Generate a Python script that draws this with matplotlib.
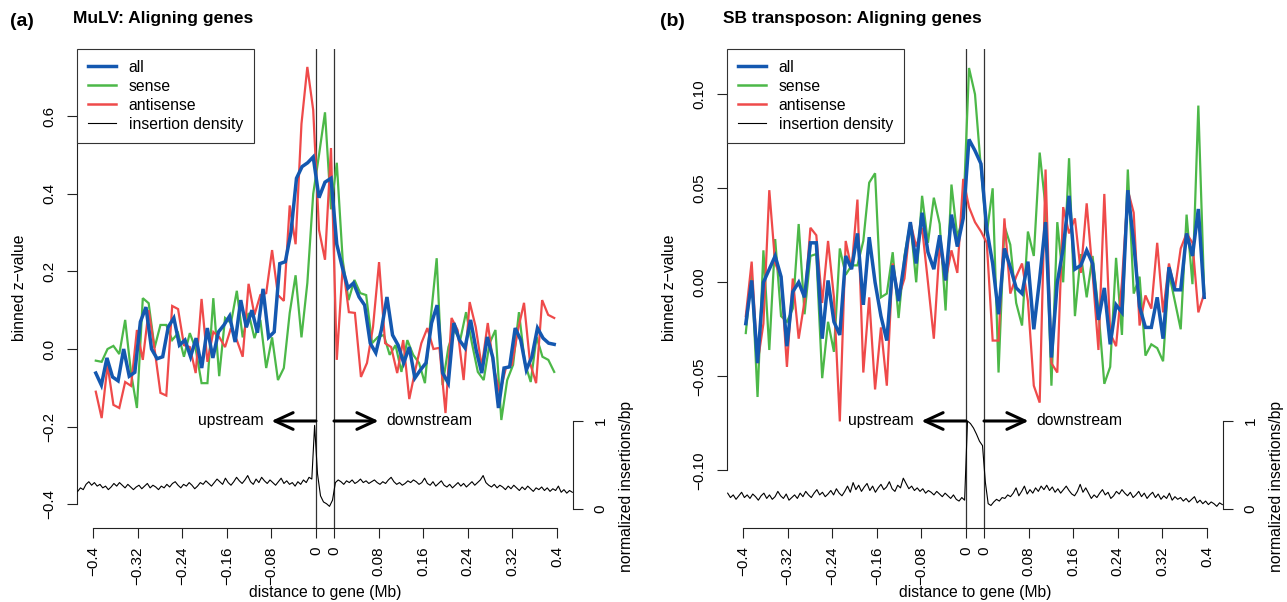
import numpy as np
import matplotlib.pyplot as plt
from matplotlib.lines import Line2D

plt.rcParams['font.family'] = ['Liberation Sans', 'DejaVu Sans']

# ---------------- data: panel (a) MuLV ----------------
a_all_up = [-0.062, -0.093, -0.023, -0.072, -0.082, 0.000, -0.070, -0.060, 0.070, 0.108,
            0.000, -0.025, -0.020, 0.057, 0.080, 0.010, 0.023, -0.020, 0.028, -0.049,
            0.054, -0.023, 0.044, 0.062, 0.085, 0.018, 0.126, 0.056, 0.100, 0.042,
            0.155, 0.030, 0.044, 0.220, 0.225, 0.300, 0.440, 0.470, 0.480, 0.495]
a_all_gene = [0.39, 0.43, 0.44]
a_all_down = [0.27, 0.21, 0.157, 0.17, 0.134, 0.113, 0.015, -0.01, 0.05, 0.134,
              0.036, 0.01, -0.036, 0.005, -0.075, -0.054, -0.036, 0.067, 0.113, -0.062,
              -0.088, 0.067, 0.023, 0.003, 0.075, -0.003, -0.062, 0.031, -0.023, -0.152,
              -0.049, -0.046, 0.054, 0.023, -0.054, -0.02, 0.054, 0.028, 0.015, 0.012]

a_sense_up = [-0.03, -0.033, 0.0, 0.008, -0.013, 0.075, -0.062, -0.152, 0.131, 0.118,
              0.003, 0.062, 0.062, 0.023, 0.041, -0.02, 0.041, 0.0, -0.088, -0.088,
              0.131, -0.07, 0.08, 0.067, 0.15, 0.03, 0.093, 0.028, 0.075, -0.049,
              0.03, -0.08, -0.049, 0.093, 0.19, 0.03, 0.17, 0.40]
a_sense_gene = [0.50, 0.61, 0.36]
a_sense_down = [0.48, 0.23, 0.126, 0.178, 0.144, 0.139, 0.015, 0.031, 0.036, -0.015,
                0.01, -0.059, 0.023, -0.015, -0.036, -0.088, 0.082, 0.234, -0.093, 0.005,
                0.049, 0.023, 0.095, 0.015, -0.059, -0.08, 0.015, 0.049, -0.183, -0.08,
                -0.041, 0.095, -0.036, -0.085, 0.031, -0.02, -0.028, -0.059]

a_anti_up = [-0.11, -0.178, -0.041, -0.144, -0.152, -0.085, -0.095, 0.049, -0.028, 0.10,
             0.0, -0.113, -0.12, 0.111, 0.103, 0.01, 0.005, -0.062, 0.129, -0.033,
             0.044, 0.031, 0.005, 0.054, 0.023, -0.02, 0.168, 0.088, 0.139, 0.144,
             0.255, 0.139, 0.124, 0.37, 0.27, 0.58, 0.727, 0.616]
a_anti_gene = [0.307, 0.23, 0.518]
a_anti_down = [-0.028, 0.217, 0.095, 0.093, -0.072, -0.036, 0.057, 0.224, 0.015, 0.005,
               -0.062, 0.023, -0.129, -0.054, 0.015, 0.054, 0.0, 0.003, -0.165, 0.08,
               0.049, -0.08, 0.121, 0.057, -0.046, 0.067, -0.049, -0.113, -0.049, -0.041,
               0.049, 0.119, -0.036, -0.088, 0.126, 0.088, 0.08]

a_dens_up = [0.20, 0.24, 0.22, 0.28, 0.31, 0.27, 0.30, 0.26, 0.28, 0.24,
             0.26, 0.22, 0.25, 0.29, 0.26, 0.30, 0.27, 0.24, 0.28, 0.25,
             0.22, 0.25, 0.27, 0.23, 0.26, 0.29, 0.24, 0.27, 0.25, 0.22,
             0.26, 0.24, 0.28, 0.25, 0.29, 0.31, 0.27, 0.24, 0.28, 0.26,
             0.30, 0.27, 0.23, 0.26, 0.30, 0.28, 0.32, 0.29, 0.26, 0.30,
             0.34, 0.31, 0.28, 0.35, 0.30, 0.27, 0.31, 0.36, 0.32, 0.29,
             0.33, 0.38, 0.31, 0.28, 0.34, 0.30, 0.36, 0.32, 0.29, 0.33,
             0.30, 0.27, 0.31, 0.35, 0.29, 0.32, 0.28, 0.30, 0.26, 0.31,
             0.28, 0.33, 0.30, 0.36, 0.34, 0.95]
a_dens_gene = [0.40, 0.15, 0.08, 0.06, 0.03, 0.10]
a_dens_down = [0.30, 0.33, 0.31, 0.28, 0.32, 0.30, 0.33, 0.29, 0.31, 0.34,
               0.30, 0.32, 0.29, 0.31, 0.33, 0.30, 0.28, 0.31, 0.29, 0.33,
               0.36, 0.31, 0.28, 0.30, 0.27, 0.29, 0.32, 0.30, 0.33, 0.31,
               0.28, 0.30, 0.35, 0.29, 0.27, 0.31, 0.26, 0.29, 0.32, 0.27,
               0.25, 0.28, 0.24, 0.27, 0.30, 0.26, 0.29, 0.25, 0.28, 0.31,
               0.27, 0.30, 0.33, 0.38, 0.30, 0.27, 0.25, 0.28, 0.24, 0.27,
               0.25, 0.22, 0.26, 0.23, 0.27, 0.24, 0.21, 0.25, 0.22, 0.26,
               0.23, 0.20, 0.24, 0.22, 0.25, 0.21, 0.24, 0.20, 0.23, 0.21,
               0.26, 0.19, 0.22, 0.18, 0.21, 0.19]

# ---------------- data: panel (b) SB transposon ----------------
b_all_up = [-0.022, 0.001, -0.043, 0.0, 0.007, 0.014, 0.003, -0.034, -0.005, 0.0,
            -0.008, 0.021, 0.021, -0.03, 0.001, -0.021, -0.028, 0.014, 0.007, 0.026,
            -0.012, 0.024, 0.0, -0.018, -0.031, 0.009, -0.01, 0.011, 0.032, 0.01,
            0.037, 0.016, 0.007, 0.025, 0.001, 0.036, 0.019, 0.034]
b_all_gene = [0.076, 0.070, 0.063]
b_all_down = [0.028, 0.01, -0.017, 0.018, 0.008, -0.003, -0.006, 0.011, -0.025, 0.002,
              0.032, -0.04, 0.0, 0.018, 0.046, 0.007, 0.009, 0.017, 0.01, -0.02,
              -0.003, -0.033, -0.012, -0.016, 0.049, 0.021, -0.013, -0.024, -0.024, -0.008,
              -0.03, 0.008, -0.004, -0.004, 0.026, 0.014, 0.039, -0.008]

b_sense_up = [-0.027, 0.005, -0.061, 0.017, -0.036, 0.023, -0.018, -0.021, -0.014, 0.031,
              -0.017, 0.014, 0.015, -0.051, -0.021, -0.037, 0.018, 0.004, 0.009, 0.009,
              0.022, 0.053, 0.058, -0.008, -0.006, 0.016, -0.019, 0.014, 0.032, 0.0,
              0.046, 0.021, 0.045, 0.031, -0.015, 0.052, 0.024, 0.035]
b_sense_gene = [0.114, 0.100, 0.060]
b_sense_down = [0.026, 0.05, -0.048, 0.03, 0.02, -0.011, -0.023, 0.027, 0.014, 0.069,
                0.04, -0.055, 0.032, 0.0, 0.066, -0.018, 0.015, -0.008, 0.014, -0.015,
                -0.054, -0.045, 0.013, -0.028, 0.06, -0.006, 0.003, -0.039, -0.033, -0.035,
                -0.042, 0.005, -0.01, -0.025, 0.036, -0.001, 0.094, -0.006]

b_anti_up = [-0.018, 0.011, -0.043, -0.022, 0.049, 0.01, 0.003, -0.045, 0.002, -0.03,
             -0.01, 0.029, 0.025, -0.011, 0.022, -0.008, -0.074, 0.022, 0.007, 0.044,
             -0.048, -0.008, -0.057, -0.024, -0.055, 0.01, -0.008, 0.002, 0.032, 0.019,
             0.029, 0.0, -0.03, 0.02, 0.001, 0.017, 0.005, 0.055]
b_anti_gene = [0.040, 0.032, 0.027]
b_anti_down = [0.021, -0.031, -0.031, 0.034, -0.006, 0.003, 0.01, -0.01, -0.055, -0.064,
               0.06, -0.043, -0.048, 0.04, 0.026, 0.034, 0.005, 0.042, 0.005, -0.036,
               0.047, -0.027, -0.034, 0.0, 0.049, 0.037, -0.023, -0.007, -0.014, 0.021,
               -0.016, 0.01, -0.004, 0.018, 0.026, 0.021, -0.016, -0.006]

b_dens_up = [0.18, 0.13, 0.16, 0.11, 0.15, 0.19, 0.13, 0.16, 0.12, 0.17,
             0.14, 0.10, 0.15, 0.18, 0.12, 0.16, 0.11, 0.14, 0.20, 0.15,
             0.12, 0.17, 0.10, 0.13, 0.16, 0.12, 0.18, 0.14, 0.20, 0.16,
             0.13, 0.18, 0.22, 0.16, 0.19, 0.14, 0.17, 0.21, 0.16, 0.23,
             0.18, 0.15, 0.20, 0.26, 0.19, 0.30, 0.22, 0.27, 0.20, 0.25,
             0.29, 0.21, 0.26, 0.19, 0.24, 0.28, 0.22, 0.25, 0.31, 0.23,
             0.20, 0.27, 0.24, 0.35, 0.29, 0.23, 0.26, 0.21, 0.24, 0.20,
             0.23, 0.18, 0.21, 0.19, 0.16, 0.20, 0.17, 0.14, 0.18, 0.15,
             0.12, 0.16, 0.11, 0.09, 0.13, 0.10]
b_dens_gene = [1.0, 0.97, 0.92, 0.85, 0.77, 0.72]
b_dens_down = [0.30, 0.06, 0.04, 0.08, 0.11, 0.09, 0.13, 0.12, 0.16, 0.14,
               0.18, 0.24, 0.15, 0.20, 0.26, 0.17, 0.22, 0.18, 0.24, 0.20,
               0.26, 0.22, 0.27, 0.21, 0.25, 0.19, 0.23, 0.18, 0.22, 0.26,
               0.21, 0.17, 0.15, 0.20, 0.28, 0.19, 0.24, 0.18, 0.12, 0.16,
               0.13, 0.18, 0.22, 0.16, 0.19, 0.12, 0.15, 0.20, 0.17, 0.22,
               0.18, 0.15, 0.19, 0.13, 0.16, 0.20, 0.14, 0.18, 0.12, 0.16,
               0.19, 0.13, 0.17, 0.11, 0.15, 0.12, 0.18, 0.10, 0.14, 0.11,
               0.13, 0.09, 0.12, 0.08, 0.11, 0.14, 0.07, 0.10, 0.06, 0.09,
               0.05, 0.08, 0.06, 0.03, 0.07, 0.05]

x_ticks = [-0.4, -0.32, -0.24, -0.16, -0.08, 0.0]
x_tick_labels_up = ['\u22120.4', '\u22120.32', '\u22120.24', '\u22120.16', '\u22120.08', '0']
x_tick_labels_down = ['0', '0.08', '0.16', '0.24', '0.32', '0.4']

C_ALL = '#1458b0'
C_SENSE = '#4cb848'
C_ANTI = '#ef4a4a'
GAP = 18 / 557.5     # gene body width on the plotting axis
FS = 11.3

W, H = 1287, 602
fig = plt.figure(figsize=(W / 100, H / 100), dpi=100)


def xy(up, gene, down, edge=0.005):
    xu = np.linspace(-0.4 + edge, -edge, len(up))
    xg = (np.arange(len(gene)) + 0.5) / len(gene) * GAP
    xd = GAP + np.linspace(edge, 0.4 - edge, len(down))
    return np.concatenate([xu, xg, xd]), np.concatenate([up, gene, down])


def panel(off, letter, title, series, dens, ylim, yticks, ylabels):
    ax = fig.add_axes([(77 + off) / W, 1 - 528 / H, 496 / W, 479 / H])
    ax.set_xlim(-0.4287, 0.4287 + GAP)
    ax.set_ylim(*ylim)
    for s in ['top', 'right']:
        ax.spines[s].set_visible(False)
    ax.spines['left'].set_bounds(yticks[0], yticks[-1])
    ax.spines['bottom'].set_bounds(-0.4, 0.4 + GAP)
    ax.set_yticks(yticks)
    ax.set_yticklabels(ylabels, rotation=90, va='center')
    xt = x_ticks + [GAP + abs(v) for v in x_ticks[::-1]]
    ax.set_xticks(xt)
    ax.set_xticklabels(x_tick_labels_up + x_tick_labels_down, rotation=90)
    ax.tick_params(direction='out', length=7, width=0.8, labelsize=11, color='#222222')
    ax.tick_params(axis='y', pad=8)
    ax.tick_params(axis='x', pad=6)
    for s in ['left', 'bottom']:
        ax.spines[s].set_linewidth(0.8)
        ax.spines[s].set_color('#222222')

    ax.axvline(0, color='#333333', lw=0.9)
    ax.axvline(GAP, color='#333333', lw=0.9)

    for (up, gene, down), c, lw in series:
        x, y = xy(up, gene, down)
        ax.plot(x, y, color=c, lw=lw, solid_joinstyle='miter')

    # insertion density on its own scale
    ax2 = ax.twinx()
    ax2.set_ylim(-0.216, 5.227)
    for s in ['top', 'left', 'bottom']:
        ax2.spines[s].set_visible(False)
    ax2.spines['right'].set_bounds(0, 1)
    ax2.spines['right'].set_linewidth(0.8)
    ax2.spines['right'].set_color('#222222')
    ax2.set_yticks([0, 1])
    ax2.set_yticklabels(['0', '1'], rotation=90, va='center')
    ax2.tick_params(direction='out', length=7, width=0.8, labelsize=11, pad=8, color='#222222')
    up, gene, down = dens
    x = np.concatenate([np.linspace(-0.4275, -0.0025, len(up)),
                        (np.arange(len(gene)) + 0.5) / len(gene) * GAP,
                        GAP + np.linspace(0.0025, 0.4275, len(down))])
    y = np.concatenate([up, gene, down])
    ax2.plot(x, y, color='black', lw=0.8)

    aprops = dict(arrowstyle='->,head_length=1.3,head_width=0.6', lw=2.2, color='black',
                  shrinkA=0, shrinkB=0, mutation_scale=10)
    ax2.annotate('', xy=(-0.08, 1), xytext=(0, 1), arrowprops=aprops)
    ax2.annotate('', xy=(GAP + 0.08, 1), xytext=(GAP, 1), arrowprops=aprops)
    ax2.text(-0.094, 1, 'upstream', ha='right', va='center', fontsize=FS)
    ax2.text(GAP + 0.094, 1, 'downstream', ha='left', va='center', fontsize=FS)

    handles = [Line2D([], [], color=C_ALL, lw=2.5), Line2D([], [], color=C_SENSE, lw=1.8),
               Line2D([], [], color=C_ANTI, lw=1.8), Line2D([], [], color='black', lw=0.8)]
    leg = ax2.legend(handles, ['all', 'sense', 'antisense', 'insertion density'],
                     loc='upper left', bbox_to_anchor=(0, 1), borderaxespad=0,
                     fontsize=FS, frameon=True, fancybox=False, framealpha=1,
                     edgecolor='#333333', handlelength=1.8, handletextpad=0.8,
                     labelspacing=0.25, borderpad=0.7)
    leg.get_frame().set_linewidth(0.8)

    fig.text((10 + off) / W, 1 - 22 / H, letter, fontsize=14, fontweight='bold', va='center')
    fig.text((73 + off) / W, 1 - 18 / H, title, fontsize=12.5, fontweight='bold', va='center')
    fig.text((20 + off) / W, 1 - 288 / H, 'binned z\u2212value', fontsize=FS,
             rotation=90, ha='center', va='center')
    fig.text((626 + off) / W, 1 - 486 / H, 'normalized insertions/bp', fontsize=FS,
             rotation=90, ha='center', va='center')
    fig.text((325 + off) / W, 1 - 593 / H, 'distance to gene (Mb)', fontsize=FS,
             ha='center', va='center')


panel(0, '(a)', 'MuLV: Aligning genes',
      [((a_sense_up, a_sense_gene, a_sense_down), C_SENSE, 1.6),
       ((a_anti_up, a_anti_gene, a_anti_down), C_ANTI, 1.6),
       ((a_all_up, a_all_gene, a_all_down), C_ALL, 2.5)],
      (a_dens_up, a_dens_gene, a_dens_down),
      (-0.4613, 0.7732), [-0.4, -0.2, 0.0, 0.2, 0.4, 0.6],
      ['\u22120.4', '\u22120.2', '0.0', '0.2', '0.4', '0.6'])

panel(650, '(b)', 'SB transposon: Aligning genes',
      [((b_sense_up, b_sense_gene, b_sense_down), C_SENSE, 1.6),
       ((b_anti_up, b_anti_gene, b_anti_down), C_ANTI, 1.6),
       ((b_all_up, b_all_gene, b_all_down), C_ALL, 2.5)],
      (b_dens_up, b_dens_gene, b_dens_down),
      (-0.1307, 0.1241), [-0.10, -0.05, 0.0, 0.05, 0.10],
      ['\u22120.10', '\u22120.05', '0.00', '0.05', '0.10'])

fig.savefig('out.png', dpi=100)
